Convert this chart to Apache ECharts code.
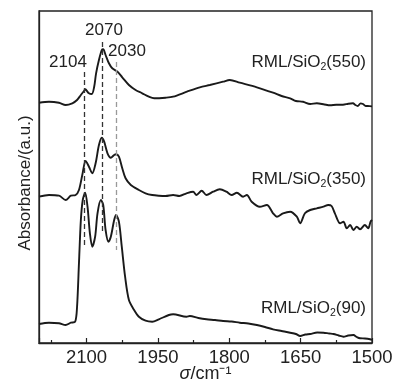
<!DOCTYPE html>
<html>
<head>
<meta charset="utf-8">
<script src="https://cdn.jsdelivr.net/npm/echarts@6/dist/echarts.min.js"></script>
<style>
  html, body { margin: 0; padding: 0; background: #fff; }
  #chart { width: 393px; height: 382px; }
</style>
</head>
<body>
<div id="chart"></div>
<script>
// wavenumber (cm-1) / offset absorbance (a.u.)
const s550 = [
  [2200, 240.3], [2179, 241.3], [2158, 240.3], [2144, 238], [2130, 239.7], [2120, 243],
  [2112, 248], [2105, 252.3], [2103, 253.7], [2095, 249.7], [2089, 249], [2084, 256.3],
  [2080, 269.7], [2074, 283], [2068, 293], [2065, 293.7], [2060, 288], [2053, 279.7],
  [2046, 274.7], [2035, 271.3], [2025, 265.7], [2011, 258], [1997, 253], [1983, 249.7],
  [1969, 246.3], [1958, 244.7], [1934, 245.3], [1918, 246.3], [1889, 251.3], [1862, 255.7],
  [1841, 258], [1813, 261.3], [1799, 263], [1778, 260.3], [1742, 255.7], [1708, 250.3],
  [1690, 247], [1672, 244.7], [1660, 242], [1645, 241.3], [1630, 239], [1616, 239.7],
  [1600, 238.5], [1588, 237.7], [1575, 238.3], [1561, 238.3], [1550, 239.2], [1540, 239.7],
  [1535, 238], [1530, 237], [1524, 239.6], [1519, 239], [1514, 237.2], [1509, 237], [1500, 236.6]
];
const s350 = [
  [2200, 146.3], [2179, 148], [2158, 147.3], [2144, 143], [2133, 147.3], [2123, 148],
  [2116, 153], [2109, 168], [2102, 182], [2095, 176.3], [2088, 169.7], [2081, 179.7],
  [2074, 198], [2068, 205.3], [2063, 201.3], [2056, 189.7], [2049, 185.3], [2042, 188],
  [2038, 188.7], [2032, 186.3], [2025, 174.7], [2018, 164.7], [2007, 158], [1990, 153],
  [1976, 149.7], [1962, 148], [1948, 147.3], [1934, 147], [1918, 148], [1905, 147],
  [1890, 149.7], [1876, 151.3], [1869, 148], [1858, 152.3], [1848, 148], [1834, 151.3],
  [1820, 153.7], [1806, 151.3], [1795, 148], [1784, 150.3], [1771, 146.3], [1763, 148],
  [1753, 141.3], [1736, 136.3], [1721, 138], [1708, 129.7], [1700, 126.3], [1687, 129.7],
  [1672, 131.3], [1658, 126.3], [1651, 119.7], [1641, 129.7], [1630, 133], [1616, 134.7],
  [1602, 136.3], [1592, 138], [1585, 137], [1578, 129.7], [1567, 119.7], [1560, 121.3],
  [1553, 114.7], [1546, 118], [1539, 113], [1532, 116.3], [1525, 113.7], [1515, 118],
  [1508, 114.7], [1503, 121.3], [1500, 123]
];
const s90 = [
  [2200, 19], [2179, 20.3], [2158, 19.7], [2144, 18], [2133, 20.3], [2124, 21.3],
  [2120, 36.3], [2116, 79.7], [2112, 123], [2108, 143], [2103, 150.3], [2098, 136.3],
  [2093, 109.7], [2088, 96.3], [2082, 106.3], [2077, 129.7], [2070, 143], [2065, 138],
  [2060, 113], [2054, 101.3], [2049, 106.3], [2042, 123], [2038, 128], [2032, 121.3],
  [2026, 96.3], [2019, 66.3], [2011, 43], [2000, 33], [1990, 26.3], [1976, 22.3],
  [1962, 21.3], [1948, 23.7], [1927, 28], [1918, 28.7], [1890, 26.3], [1883, 27],
  [1865, 25], [1848, 23.7], [1830, 23], [1813, 22], [1795, 21.5], [1778, 20.3],
  [1760, 19.5], [1742, 18], [1725, 16], [1708, 13.7], [1690, 12], [1672, 10.3],
  [1660, 9], [1651, 7], [1640, 8.5], [1630, 9], [1615, 10.5], [1602, 10.3], [1590, 9.5],
  [1581, 9], [1570, 7.5], [1560, 6.3], [1550, 7.5], [1539, 8], [1532, 6], [1525, 4.7],
  [1515, 4.5], [1504, 3.7], [1500, 3]
];
// dashed guide lines: [wavenumber, top, bottom, colour]
const peakLines = [
  [2104, 271, 98, '#333'],
  [2068, 301, 111, '#333'],
  [2037, 281, 93, '#999']
];
const peakLabels = ['2104', '2070', '2030'];
const sampleNames = ['550', '350', '90'];
const xTicks = [1500, 1650, 1800, 1950, 2100];

const chart = echarts.init(document.getElementById('chart'), null, { renderer: 'canvas' });
const font = 'Liberation Sans, Arial, sans-serif';
const lineCol = '#1a1a1a';

const curve = (data) => ({
  type: 'line', data: data, showSymbol: false, smooth: 0.3, silent: true,
  lineStyle: { color: lineCol, width: 1.9 }
});

const sampleText = (name, y) => ({
  type: 'text', right: 27, top: y,
  style: {
    text: '{a|RML/SiO}{s|2}{a|(' + name + ')}',
    rich: {
      a: { fontSize: 17, fontFamily: font, fill: '#222', lineHeight: 21, verticalAlign: 'middle' },
      s: { fontSize: 10.5, fontFamily: font, fill: '#222', lineHeight: 21, verticalAlign: 'bottom' }
    }
  }
});

const peakText = (text, x, y) => ({
  type: 'text', x: x, y: y,
  style: { text: text, fontSize: 17, fontFamily: font, fill: '#222', align: 'center', verticalAlign: 'middle' }
});

chart.setOption({
  animation: false,
  grid: {
    left: 39, top: 11, right: 21, bottom: 39, show: true, borderColor: '#222', borderWidth: 1.3,
    outerBoundsMode: 'none', containLabel: false
  },
  xAxis: {
    type: 'value', min: 1500, max: 2200, interval: 150, inverse: true,
    axisLine: { show: true, lineStyle: { color: '#222', width: 1.3 } },
    axisTick: { show: true, inside: true, length: 5, lineStyle: { color: '#222', width: 1.2 } },
    minorTick: { show: true, splitNumber: 2, length: 3, lineStyle: { color: '#222', width: 1.2 } },
    splitLine: { show: false },
    axisLabel: {
      fontSize: 18.5, fontFamily: font, color: '#222', margin: 5,
      showMaxLabel: false,
      formatter: (v) => xTicks.includes(v) ? String(v) : ''
    },
    name: '{i|σ}{a|/cm⁻¹}', nameLocation: 'middle', nameGap: 22, nameMoveOverlap: false,
    nameTextStyle: {
      rich: {
        i: { fontSize: 18, fontFamily: font, fontStyle: 'italic', color: '#222' },
        a: { fontSize: 18, fontFamily: font, color: '#222' }
      }
    }
  },
  yAxis: {
    type: 'value', min: 0, max: 332,
    axisLine: { show: true, lineStyle: { color: '#222', width: 1.3 } },
    axisTick: { show: false }, axisLabel: { show: false }, splitLine: { show: false },
    name: 'Absorbance/(a.u.)', nameLocation: 'middle', nameGap: 5, nameMoveOverlap: false,
    nameTextStyle: { fontSize: 17, fontFamily: font, color: '#222', padding: [0, 12, 0, 0] }
  },
  series: [
    curve(s550), curve(s350), curve(s90),
    {
      type: 'line', data: [], silent: true,
      markLine: {
        symbol: 'none', silent: true, label: { show: false },
        data: peakLines.map(p => [
          { coord: [p[0], p[1]], lineStyle: { color: p[3], type: [5, 3], width: 1.3 } },
          { coord: [p[0], p[2]] }
        ])
      }
    }
  ],
  graphic: [
    peakText(peakLabels[0], 68, 62),
    peakText(peakLabels[1], 104, 30),
    peakText(peakLabels[2], 127, 51),
    sampleText(sampleNames[0], 54),
    sampleText(sampleNames[1], 171),
    sampleText(sampleNames[2], 300)
  ]
});
</script>
</body>
</html>
